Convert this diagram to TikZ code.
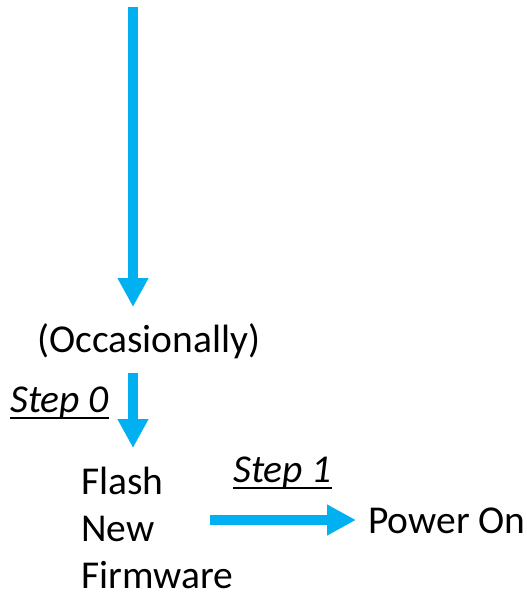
\documentclass[tikz,border=0pt]{standalone}
\usepackage{fontspec}
\setmainfont{Carlito}
\usetikzlibrary{arrows.meta}
\definecolor{arrowblue}{HTML}{00B0F0}
\newcommand\myul[1]{\setbox0\hbox{#1}\rlap{\rule[-7pt]{\wd0}{2.2pt}}\box0}
\begin{document}
\begin{tikzpicture}[x=1pt,y=-1pt,
  lbl/.style={inner sep=0pt,font=\fontsize{39.5}{47}\selectfont,anchor=base west},
  arr/.style={draw=arrowblue,line width=10pt,-{Triangle[width=29pt,length=29pt]}}]
\useasboundingbox (0,0) rectangle (527,592);
\coordinate (a0) at (133,7);
\coordinate (a1) at (133,307);
\coordinate (b0) at (133,373);
\coordinate (b1) at (133,448);
\coordinate (c0) at (210,520);
\coordinate (c1) at (356,520);
\node[lbl] (occ) at (37,352) {(Occasionally)};
\node[lbl] (s0) at (10,412) {\myul{\itshape Step 0}};
\node[lbl,align=left] (flash) at (81,588) {Flash\\New\\Firmware};
\node[lbl] (s1) at (233,482) {\myul{\itshape Step 1}};
\node[lbl] (pw) at (368,533) {Power On};
\draw[arr] (a0) -- (a1);
\draw[arr] (b0) -- (b1);
\draw[arr] (c0) -- (c1);
\end{tikzpicture}
\end{document}
